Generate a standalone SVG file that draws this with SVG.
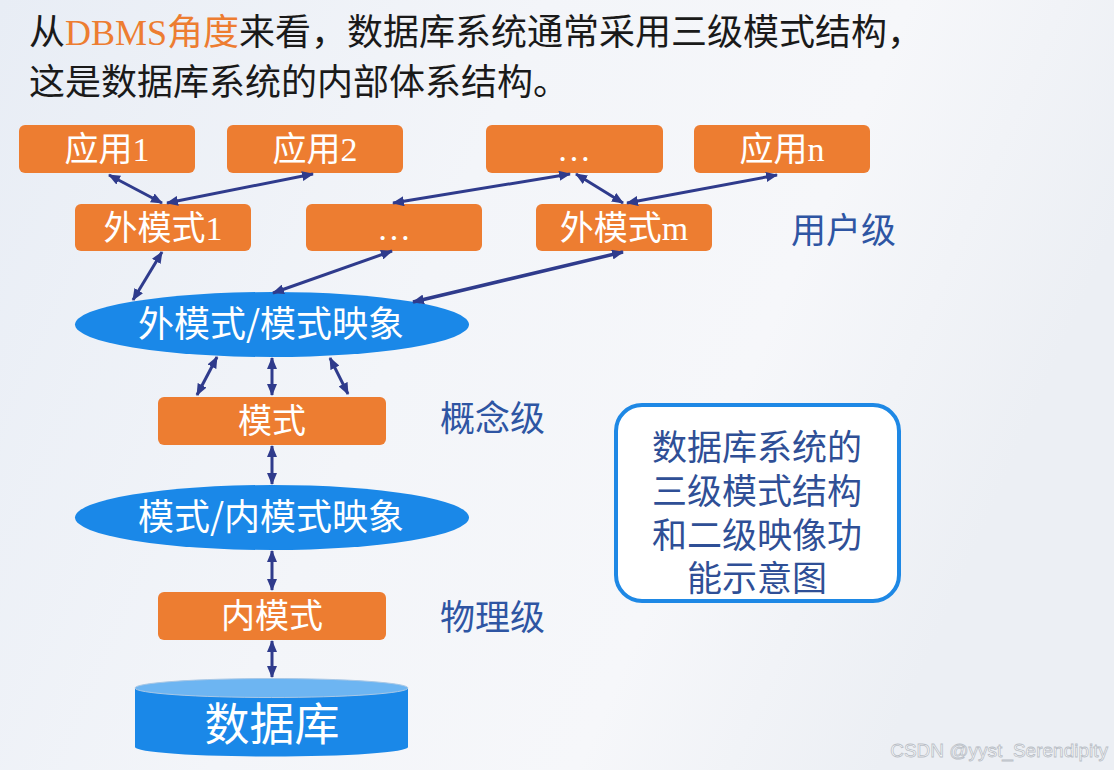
<svg xmlns="http://www.w3.org/2000/svg" width="1114" height="770" viewBox="0 0 1114 770">
  <defs>
    <linearGradient id="bg" x1="0" y1="0" x2="1" y2="0.3">
      <stop offset="0" stop-color="#e8edf5"/>
      <stop offset="0.45" stop-color="#f3f5f9"/>
      <stop offset="0.75" stop-color="#f6f7fa"/>
      <stop offset="1" stop-color="#eceff4"/>
    </linearGradient>
    <marker id="ah" viewBox="0 0 12 10" refX="11" refY="5" markerWidth="12" markerHeight="10" markerUnits="userSpaceOnUse" orient="auto-start-reverse">
      <path d="M0,0 L12,5 L0,10 z" fill="#2f3b8c"/>
    </marker>
    <style>
      .box { fill: #ed7d31; }
      .oval { fill: #1a88e8; }
      .lbl { font-family: "Liberation Serif", "Noto Sans CJK SC", serif; font-size: 34px; fill: #ffffff; text-anchor: middle; }
      .olbl { font-family: "Noto Sans CJK SC", "Liberation Sans", sans-serif; font-size: 36px; fill: #ffffff; text-anchor: middle; }
      .lvl { font-family: "Noto Sans CJK SC", "Liberation Sans", sans-serif; font-size: 35px; fill: #2e55a3; }
      .title { font-family: "Liberation Serif", "Noto Sans CJK SC", serif; font-size: 36px; fill: #1a1a1a; }
      .note { font-family: "Noto Sans CJK SC", "Liberation Sans", sans-serif; font-size: 35px; fill: #2f4f96; text-anchor: middle; }
      .conn line { stroke: #2f3b8c; stroke-width: 3; marker-start: url(#ah); marker-end: url(#ah); }
    </style>
  </defs>

  <rect x="0" y="0" width="1114" height="770" fill="url(#bg)"/>

  <g id="title">
    <text class="title" x="29" y="45">从<tspan fill="#ed7d31">DBMS角度</tspan>来看，数据库系统通常采用三级模式结构，</text>
    <text class="title" x="29" y="95">这是数据库系统的内部体系结构。</text>
  </g>

  <g id="app1"><rect class="box" x="19" y="125" width="176" height="48" rx="6"/><text class="lbl" x="107" y="161">应用1</text></g>
  <g id="app2"><rect class="box" x="227" y="125" width="176" height="48" rx="6"/><text class="lbl" x="315" y="161">应用2</text></g>
  <g id="app-dots"><rect class="box" x="486" y="125" width="177" height="48" rx="6"/><text class="lbl" x="574" y="161">…</text></g>
  <g id="appn"><rect class="box" x="694" y="125" width="176" height="48" rx="6"/><text class="lbl" x="782" y="161">应用n</text></g>

  <g id="ext1"><rect class="box" x="75" y="204" width="176" height="47" rx="6"/><text class="lbl" x="163" y="240">外模式1</text></g>
  <g id="ext-dots"><rect class="box" x="306" y="204" width="176" height="47" rx="6"/><text class="lbl" x="394" y="240">…</text></g>
  <g id="extm"><rect class="box" x="536" y="204" width="176" height="47" rx="6"/><text class="lbl" x="624" y="240">外模式m</text></g>

  <g id="level-user"><text class="lvl" x="791" y="243">用户级</text></g>

  <g id="map1"><ellipse class="oval" cx="272" cy="324.5" rx="197" ry="32.5"/><text class="olbl" x="271" y="337">外模式/模式映象</text></g>

  <g id="schema"><rect class="box" x="158" y="397" width="228" height="48" rx="6"/><text class="lbl" x="272" y="433">模式</text></g>
  <g id="level-concept"><text class="lvl" x="440" y="431">概念级</text></g>

  <g id="map2"><ellipse class="oval" cx="272" cy="517.5" rx="197" ry="32.5"/><text class="olbl" x="271" y="530">模式/内模式映象</text></g>

  <g id="internal"><rect class="box" x="158" y="592" width="228" height="48" rx="6"/><text class="lbl" x="272" y="628">内模式</text></g>
  <g id="level-physical"><text class="lvl" x="440" y="630">物理级</text></g>

  <g id="database">
    <path class="oval" d="M135,688 L135,747 A136.5,9.5 0 0 0 408,747 L408,688 z"/>
    <ellipse cx="271.5" cy="688" rx="136.5" ry="9.5" fill="#6db5f2" stroke="#a9c8e6" stroke-width="1"/>
    <text x="272" y="741" font-family="Noto Sans CJK SC, Liberation Sans, sans-serif" font-size="45" fill="#ffffff" text-anchor="middle">数据库</text>
  </g>

  <g id="note">
    <rect x="616" y="405" width="283" height="196" rx="26" fill="#ffffff" stroke="#1e88e5" stroke-width="4"/>
    <text class="note" x="757" y="460">数据库系统的</text>
    <text class="note" x="757" y="504">三级模式结构</text>
    <text class="note" x="757" y="548">和二级映像功</text>
    <text class="note" x="757" y="591">能示意图</text>
  </g>

  <g id="connectors" class="conn">
    <line x1="109" y1="175" x2="162" y2="203"/>
    <line x1="313" y1="174" x2="167" y2="203"/>
    <line x1="570" y1="174" x2="393" y2="203"/>
    <line x1="576" y1="174" x2="623" y2="203"/>
    <line x1="777" y1="175" x2="627" y2="203"/>
    <line x1="162" y1="252" x2="133" y2="300"/>
    <line x1="392" y1="251" x2="273" y2="293"/>
    <line x1="623" y1="252" x2="413" y2="302" style="stroke-width:3.5"/>
    <line x1="217" y1="357" x2="197" y2="395"/>
    <line x1="272" y1="358" x2="272" y2="395"/>
    <line x1="330" y1="358" x2="348" y2="394"/>
    <line x1="272" y1="446" x2="272" y2="484"/>
    <line x1="272" y1="551" x2="272" y2="590"/>
    <line x1="272" y1="641" x2="272" y2="677"/>
  </g>

  <g id="watermark">
    <text x="1108" y="757" font-family="Liberation Sans, Arial, sans-serif" font-size="19" fill="#ffffff" stroke="#b9bec6" stroke-width="0.8" text-anchor="end">CSDN @yyst_Serendipity</text>
  </g>
</svg>
